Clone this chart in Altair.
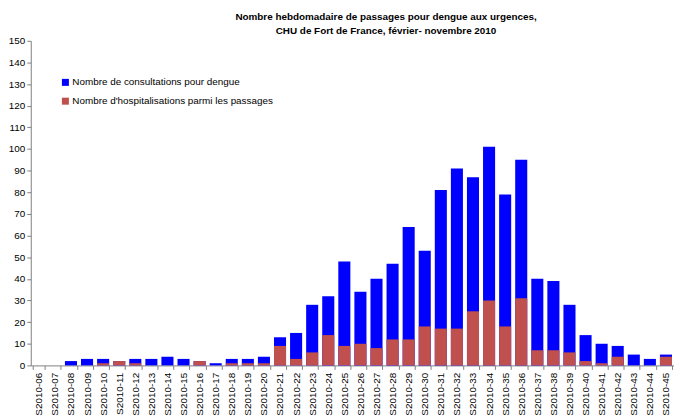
import altair as alt
import pandas as pd

weeks = [f"S2010-{w:02d}" for w in range(6, 46)]
consultations = [0, 0, 2, 3, 3, 2, 3, 3, 4, 3, 2, 1, 3, 3, 4, 13, 15, 28, 32, 48,
                 34, 40, 47, 64, 53, 81, 91, 87, 101, 79, 95, 40, 39, 28, 14, 10, 9, 5, 3, 5]
hospitalisations = [0, 0, 0, 0, 1, 2, 1, 0, 0, 0, 2, 0, 1, 1, 1, 9, 3, 6, 14, 9,
                    10, 8, 12, 12, 18, 17, 17, 25, 30, 18, 31, 7, 7, 6, 2, 1, 4, 0, 0, 4]
series_names = ["Nombre de consultations pour dengue",
                "Nombre d'hospitalisations parmi les passages"]
series_colors = ["#0000FF", "#C0504D"]

rows = []
for w, v in zip(weeks, consultations):
    rows.append({"semaine": w, "serie": series_names[0], "valeur": v, "ordre": 0})
for w, v in zip(weeks, hospitalisations):
    rows.append({"semaine": w, "serie": series_names[1], "valeur": v, "ordre": 1})
df = pd.DataFrame(rows)

FONT = "Liberation Sans"

chart = alt.Chart(df).mark_bar().encode(
    x=alt.X("semaine:N", sort=weeks, title=None,
            scale=alt.Scale(paddingInner=0.25, paddingOuter=0.125),
            axis=alt.Axis(labelAngle=270, tickBand="extent", labelFontSize=10,
                          labelFont=FONT, labelColor="#000000", domainColor="#808080",
                          tickColor="#808080", tickSize=4, labelPadding=3)),
    y=alt.Y("valeur:Q", stack=None, title=None,
            scale=alt.Scale(domain=[0, 150], nice=False),
            axis=alt.Axis(values=list(range(0, 151, 10)), grid=False, labelFontSize=10,
                          labelFont=FONT, labelColor="#000000", domainColor="#808080",
                          tickColor="#808080", tickSize=4, labelPadding=2)),
    color=alt.Color("serie:N",
                    scale=alt.Scale(domain=series_names, range=series_colors),
                    legend=alt.Legend(title=None, orient="none", legendX=30, legendY=37,
                                      symbolType="square", symbolSize=50, labelLimit=0,
                                      symbolStrokeWidth=0, labelFontSize=10, labelFont=FONT,
                                      labelColor="#000000", rowPadding=9, labelOffset=2)),
    order=alt.Order("ordre:Q"),
).properties(
    width=650,
    height=328,
    padding={"left": 0, "top": 2, "right": 0, "bottom": 0},
    title=alt.TitleParams(
        text=["Nombre hebdomadaire de passages pour dengue aux urgences,",
              "CHU de Fort de France, février- novembre 2010"],
        fontSize=10, fontWeight="bold", font=FONT, color="#000000",
        anchor="middle", dx=34, offset=0, lineHeight=14),
).configure_view(stroke=None)

chart.save("out.html", embed_options={"renderer": "svg", "actions": False})
